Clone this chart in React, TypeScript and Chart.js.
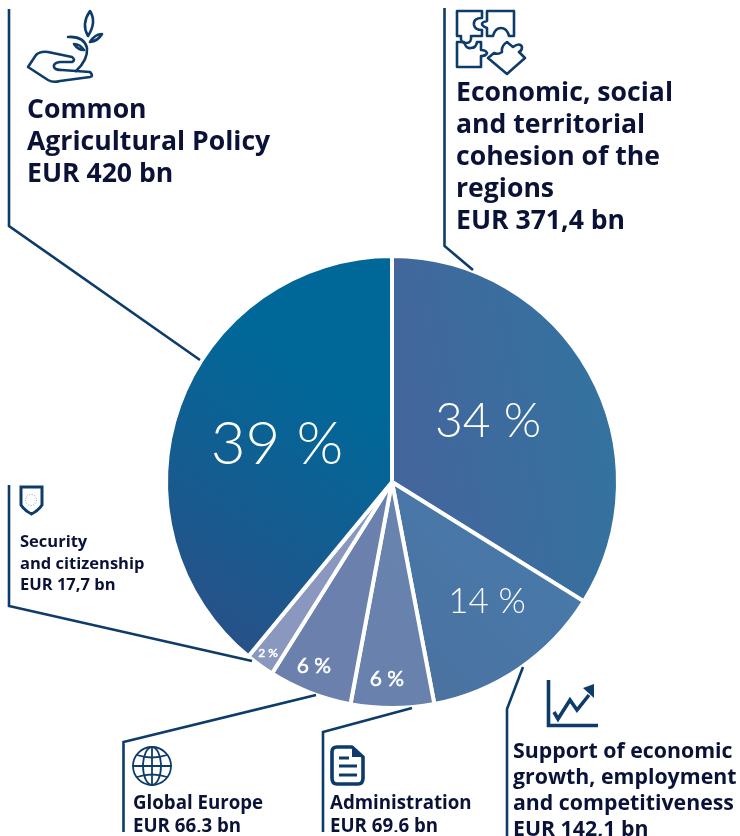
import React, { useEffect, useRef } from "react";
import { Chart, registerables } from "chart.js";

Chart.register(...registerables);

const categories = [
  "Economic, social and territorial cohesion of the regions",
  "Support of economic growth, employment and competitiveness",
  "Administration",
  "Global Europe",
  "Security and citizenship",
  "Common Agricultural Policy",
];
// Slice shares (%)
const sliceShares = [33.86, 13.14, 5.94, 5.97, 2.06, 39.03];
const percentLabels = ["34 %", "14 %", "6 %", "6 %", "2 %", "39 %"];

const gradientStops = [
  ["#43669c", "#33739f"],
  ["#4a73a2", "#467fb0"],
  ["#6882ad", "#6386b2"],
  ["#6c80ad", "#6585b0"],
  ["#8a98bf", "#8298bd"],
  ["#2a5087", "#006899"],
];
const labelOffset = [
  [96, -60],
  [95, 120],
  [-5, 197],
  [-78, 184],
  [-124, 171],
  [-115, -37],
];
const labelFont = [
  "300 48px Lato",
  "300 35px Lato",
  "400 21px Lato",
  "400 21px Lato",
  "400 12px Lato",
  "300 60px Lato",
];

const percentPlugin = {
  id: "percentPlugin",
  afterDatasetsDraw(chart: any) {
    const ctx = chart.ctx;
    const meta = chart.getDatasetMeta(0);
    ctx.save();
    ctx.fillStyle = "#ffffff";
    ctx.strokeStyle = "#ffffff";
    ctx.textAlign = "center";
    ctx.textBaseline = "middle";
    meta.data.forEach((arc: any, i: number) => {
      ctx.font = labelFont[i];
      const x = arc.x + labelOffset[i][0];
      const y = arc.y + labelOffset[i][1];
      ctx.fillText(percentLabels[i], x, y);
      if (i >= 2 && i <= 4) {
        ctx.lineWidth = 0.5;
        ctx.strokeText(percentLabels[i], x, y);
      }
    });
    ctx.restore();
  },
};

const textColor = "#0b1238";
const lineColor = "#0e3c6a";

function Label({ x, y, size, lh, lines }: { x: number; y: number; size: number; lh: number; lines: string[] }) {
  return (
    <div
      style={{
        position: "absolute",
        left: x,
        top: y,
        fontFamily: "'Open Sans', sans-serif",
        fontWeight: 700,
        fontSize: size,
        lineHeight: `${lh}px`,
        color: textColor,
        whiteSpace: "nowrap",
      }}
    >
      {lines.map((l) => (
        <div key={l}>{l}</div>
      ))}
    </div>
  );
}

function Overlay() {
  const ic = { fill: "none", stroke: lineColor, strokeWidth: 2.6, strokeLinejoin: "round", strokeLinecap: "round" } as any;
  return (
    <svg width={740} height={836} style={{ position: "absolute", left: 0, top: 0 }}>
      <g fill="none" stroke={lineColor} strokeWidth={2.6}>
        <polyline points="9,9 9,226 200,360" />
        <polyline points="444.5,8 444.5,246 473,270" />
        <polyline points="9,485 9,606 252,661" />
        <polyline points="123.5,832 123.5,742 316,695" />
        <polyline points="323,832 323,732 412,708" />
        <polyline points="507,836 507,709 523,667" />
      </g>
      <g {...ic}>
        <path d="M28,67 L36,55 Q40,51 48,52 L72,57 Q76,60 72,62 L60,62 Q53,63 54,67 Q55,70 62,70 L90,72 Q94,76 90,77 L60,81 Q53,83 48,80 Z" />
        <path d="M68,37 Q84,36 87,48 Q88,60 76,71" />
        <path d="M90,11 Q97,22 88,36 Q81,24 90,11 Z" />
        <path d="M90,42 Q95,34 102,34 Q98,41 90,42 Z" />
        <path d="M74,44 Q80,44 84,50 Q78,50 74,44 Z" />
      </g>
      <g {...ic}>
        <path d="M457,11 H482 V18 Q473,18 474,25 Q475,30 482,30 V36 H471 Q472,43 466,43 Q460,43 461,36 H457 Z" />
        <path d="M487,11 H514 V36 H509 Q507,28 501,28 Q495,28 493,36 H487 V28 Q482,26 482,24 Q482,22 487,21 Z" />
        <path d="M457,42 H464 Q466,49 471,48 Q476,48 477,42 H481 V50 Q486,50 487,53 Q486,56 481,56 V67 H457 Z" />
        <path d="M488,58 L494,53 Q498,55 502,52 Q501,46 507,42 L513,47 Q520,42 522,47 Q522,51 519,52 L525,58 L507,74 Z" />
      </g>
      <g {...ic} strokeWidth={1.8}>
        <circle cx={152} cy={766} r={19} />
        <ellipse cx={152} cy={766} rx={9} ry={19} />
        <line x1={152} y1={747} x2={152} y2={785} />
        <line x1={133} y1={766} x2={171} y2={766} />
        <path d="M137,755 Q152,760 167,755" />
        <path d="M137,777 Q152,772 167,777" />
      </g>
      <g {...ic} strokeWidth={3.6}>
        <path d="M337,747 H352 L363,757 V778 Q363,784 358,784 H337 Q332,784 332,778 V752 Q332,747 337,747 Z" />
      </g>
      <path d="M352,747 L363,757 H352 Z" fill={lineColor} />
      <g stroke={lineColor} strokeWidth={3} fill="none">
        <line x1={339} y1={758} x2={349} y2={758} />
        <line x1={339} y1={766} x2={357} y2={766} />
        <line x1={339} y1={775} x2={357} y2={775} />
      </g>
      <g fill="none" stroke={lineColor} strokeWidth={3.6}>
        <polyline points="548.5,680 548.5,725.5 598,725.5" />
        <polyline points="554,712 558,719 570,700 577,710 589,695" />
      </g>
      <polygon points="594,684 594,698 583,688" fill={lineColor} />
      <g fill="none" stroke={lineColor} strokeWidth={3}>
        <path d="M21,487 H42 V505 Q38,511 31.5,514 Q25,511 21,505 Z" />
      </g>
      <circle cx={31} cy={500} r={5.5} fill="none" stroke="#7d92ad" strokeWidth={1} strokeDasharray="1 1.6" />
    </svg>
  );
}

export default function App() {
  const ref = useRef<HTMLCanvasElement | null>(null);
  useEffect(() => {
    const canvas = ref.current!;
    const chart = new Chart(canvas, {
      type: "pie",
      data: {
        labels: categories,
        datasets: [
          {
            data: sliceShares,
            backgroundColor: (c: any) => {
              const area = c.chart.chartArea;
              const s = gradientStops[c.dataIndex];
              if (!area || !s) return "#336699";
              const cx = (area.left + area.right) / 2;
              const cy = (area.top + area.bottom) / 2;
              const ctx = c.chart.ctx;
              let g;
              if (c.dataIndex === 5) {
                g = ctx.createLinearGradient(area.left + 50, cy + 170, cx - 20, cy - 70);
                g.addColorStop(0, s[0]);
                g.addColorStop(1, s[1]);
              } else if (c.dataIndex === 0) {
                g = ctx.createLinearGradient(cx + 20, cy - 20, area.right, cy - 60);
                g.addColorStop(0, s[0]);
                g.addColorStop(1, s[1]);
              } else {
                g = ctx.createLinearGradient(area.left, area.bottom, area.right, area.top);
                g.addColorStop(0.35, s[0]);
                g.addColorStop(0.8, s[1]);
              }
              return g;
            },
            borderColor: "#ffffff",
            borderWidth: 4,
            hoverOffset: 0,
          },
        ],
      },
      options: {
        animation: false,
        responsive: false,
        layout: { padding: { left: 164, right: 120, top: 254, bottom: 126 } },
        plugins: { legend: { display: false }, tooltip: { enabled: false }, title: { display: false } },
      },
      plugins: [percentPlugin],
    } as any);
    return () => chart.destroy();
  }, []);
  return (
    <div style={{ position: "absolute", left: 0, top: 0, width: 740, height: 836, overflow: "hidden", background: "#fff" }}>
      <canvas ref={ref} width={740} height={836} style={{ position: "absolute", left: 0, top: 0 }} />
      <Overlay />
      <Label x={27} y={92} size={26.6} lh={32} lines={["Common", "Agricultural Policy", "EUR 420 bn"]} />
      <Label x={456} y={75} size={26.6} lh={32} lines={["Economic, social", "and territorial", "cohesion of the", "regions", "EUR 371,4 bn"]} />
      <Label x={20} y={530} size={16.5} lh={21.5} lines={["Security", "and citizenship", "EUR 17,7 bn"]} />
      <Label x={133} y={790} size={18.7} lh={23} lines={["Global Europe", "EUR 66,3 bn"]} />
      <Label x={330} y={790} size={18.7} lh={23} lines={["Administration", "EUR 69,6 bn"]} />
      <Label x={513} y={737} size={21.3} lh={26} lines={["Support of economic", "growth, employment", "and competitiveness", "EUR 142,1 bn"]} />
      <div style={{ position: "absolute", left: 110, top: 832, width: 370, height: 4, background: "#fff" }} />
    </div>
  );
}
